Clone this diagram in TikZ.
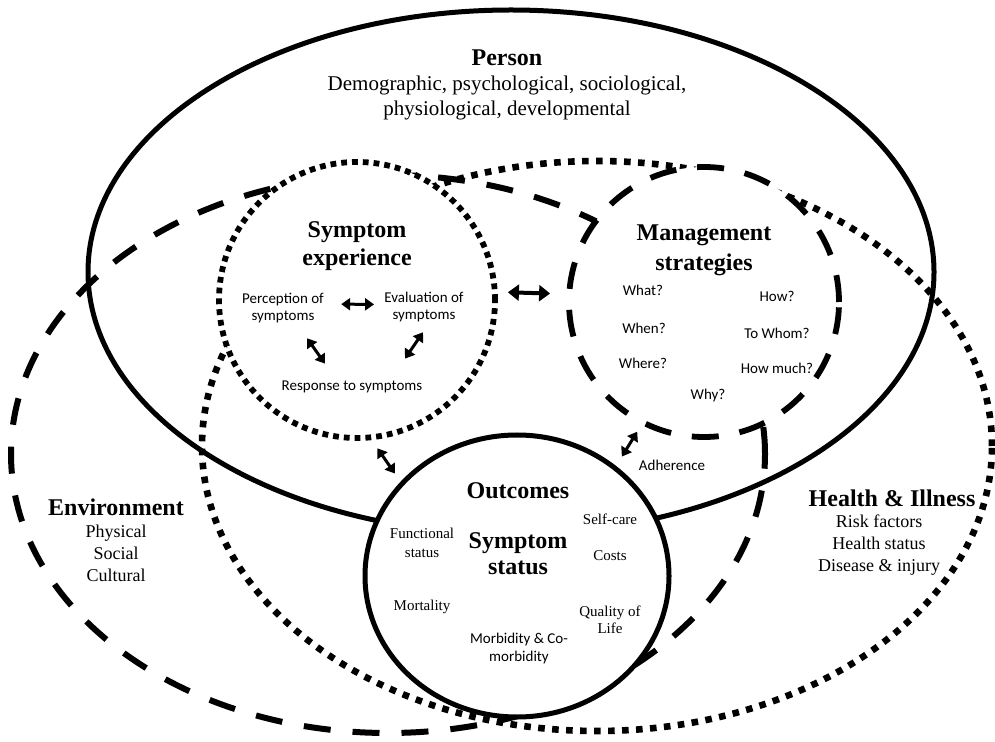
\documentclass[tikz,border=0pt]{standalone}
\usepackage{fontspec}
\setmainfont{Liberation Serif}
\newfontfamily\calibri{Carlito}
\usepackage{tikz}
\usetikzlibrary{shapes.geometric,arrows.meta}
\tikzstyle{solid ring} = [draw, line width=2.5pt]
\tikzstyle{dot ring}   = [draw, line width=2.9pt, dash pattern=on 2.9pt off 2.5pt]
\tikzstyle{dash ring}  = [draw, line width=2.9pt, dash pattern=on 13.5pt off 10.5pt]
\tikzstyle{big oval}   = [ellipse, inner sep=0pt]
\tikzstyle{twoway}     = [{Triangle[length=4.5pt,width=6pt]}-{Triangle[length=4.5pt,width=6pt]}, line width=1.5pt]
\tikzstyle{sans}       = [font=\calibri\fontsize{7.5}{8.5}\selectfont, align=center, inner sep=1pt]
\tikzstyle{serif}      = [font=\fontsize{7.5}{9.5}\selectfont, align=center, inner sep=1pt]
\tikzstyle{title}      = [font=\bfseries\fontsize{12}{14}\selectfont, align=center]

\begin{document}
\begin{tikzpicture}[x=0.5pt, y=-0.5pt]
\useasboundingbox (0,0) rectangle (995,742);

    % the three outer spheres
    \node(person)[big oval, solid ring, minimum width=423pt, minimum height=262pt] at (511,272) {};
    \node(envir)[big oval, dash ring, line width=3pt, dash pattern=on 13.5pt off 11pt,
                 minimum width=377pt, minimum height=279pt] at (388,454) {};
    \node(health)[big oval, dot ring, line width=3.3pt, dash pattern=on 3.3pt off 3.7pt,
                  minimum width=395pt, minimum height=285pt] at (597,446) {};

    % the three concepts, drawn on top
    \node(symptom)[circle, dot ring, fill=white, minimum size=138pt, inner sep=0pt] at (357,300) {};
    \node(manage)[circle, dash ring, fill=white, minimum size=135pt, inner sep=0pt] at (704,302) {};
    \node(outcome)[big oval, solid ring, fill=white, minimum width=152pt, minimum height=141pt] at (517,576) {};

    % person
    \node(persontxt)[align=center, font=\fontsize{10.5}{12.5}\selectfont] at (507,85)
        {{\bfseries\fontsize{12}{12.5}\selectfont Person}\\Demographic, psychological, sociological,\\physiological, developmental};

    % symptom experience
    \node(symtitle)[title] at (357,246) {Symptom\\experience};
    \node(percep)[sans] at (283,308) {Perception of\\symptoms};
    \node(evalu)[sans] at (424,307) {Evaluation of\\symptoms};
    \node(resp)[sans] at (352,387) {Response to symptoms};

    % management strategies
    \node(mantitle)[title, font=\bfseries\fontsize{12}{15}\selectfont] at (704,250) {Management\\strategies};
    \node(what)[sans] at (643,290) {What?};
    \node(how)[sans] at (777,296) {How?};
    \node(when)[sans] at (644,328) {When?};
    \node(whom)[sans] at (777,333) {To Whom?};
    \node(where)[sans] at (643,363) {Where?};
    \node(howmuch)[sans] at (777,368) {How much?};
    \node(why)[sans] at (708,396) {Why?};
    \node(adher)[sans] at (672,465) {Adherence};

    % outcomes
    \node(outtitle)[title] at (518,491) {Outcomes};
    \node(stattitle)[title, font=\bfseries\fontsize{12}{13}\selectfont] at (518,554) {Symptom\\status};
    \node(funct)[serif] at (422,543) {Functional\\status};
    \node(mortal)[serif] at (422,607) {Mortality};
    \node(morbid)[sans, font=\calibri\fontsize{7.5}{9}\selectfont] at (519,648) {Morbidity \& Co-\\morbidity};
    \node(selfcare)[serif] at (610,519) {Self-care};
    \node(costs)[serif] at (610,556) {Costs};
    \node(quality)[serif, font=\fontsize{7.5}{8.5}\selectfont] at (610,620) {Quality of\\Life};

    % environment, health and illness
    \node(envtxt)[align=center, font=\fontsize{9}{11}\selectfont] at (116,540)
        {{\bfseries\fontsize{12}{11}\selectfont Environment}\\Physical\\Social\\Cultural};
    \node(hilltitle)[title] at (892,498) {Health \& Illness};
    \node(hilltxt)[align=center, font=\fontsize{9}{11}\selectfont] at (879,545)
        {Risk factors\\Health status\\Disease \& injury};

    % links
    \draw[twoway, shorten <=7.5pt, shorten >=4pt] ([yshift=2pt]percep.east) -- ([yshift=1.25pt]evalu.west);
    \draw[twoway] ([xshift=12pt,yshift=-6.5pt]percep.south) -- ([xshift=-13.5pt,yshift=7.5pt]resp.north);
    \draw[twoway] ([xshift=-0.5pt,yshift=-4pt]evalu.south) -- ([xshift=26.5pt,yshift=10pt]resp.north);
    \draw[twoway, line width=2pt, shorten <=5pt, shorten >=8pt,
          {Triangle[length=5.5pt,width=8pt]}-{Triangle[length=5.5pt,width=8pt]}]
          ([yshift=4pt]symptom.east) -- ([yshift=4pt]manage.west);
    \draw[twoway, shorten <=5pt, shorten >=5pt] (symptom.-84) -- (outcome.141);
    \draw[twoway, shorten <=4pt, shorten >=5.5pt] (manage.243) -- (outcome.48);

\end{tikzpicture}
\end{document}
